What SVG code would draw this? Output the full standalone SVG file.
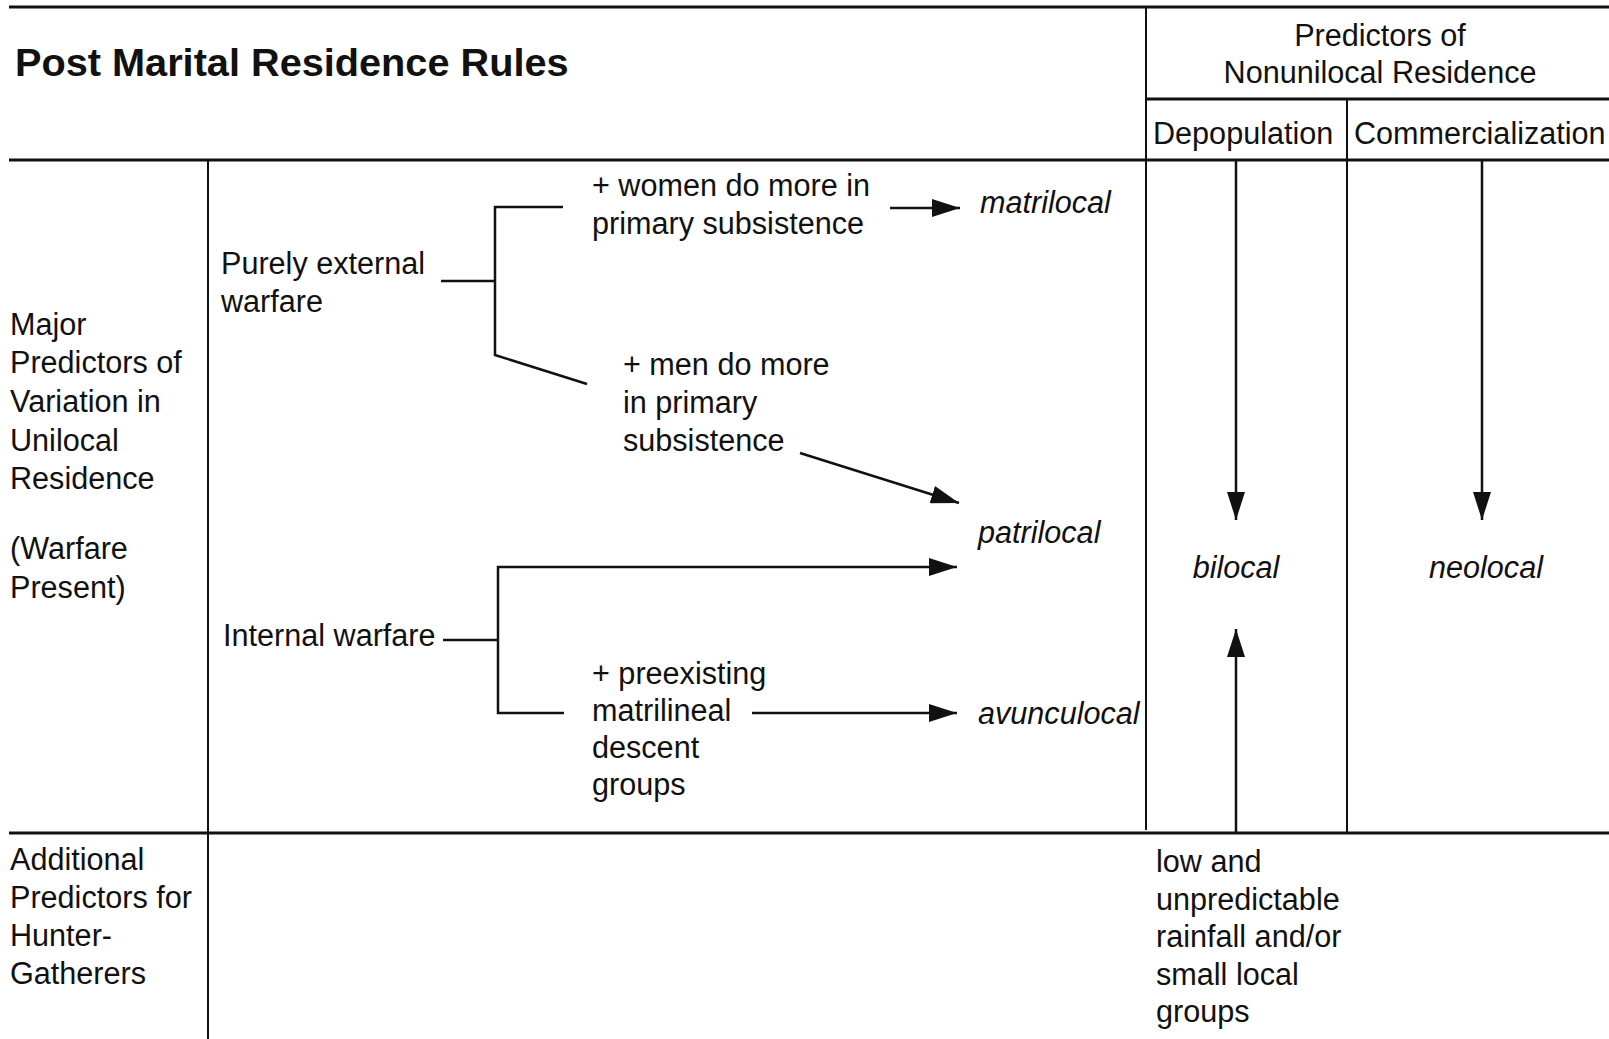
<svg xmlns="http://www.w3.org/2000/svg" width="1609" height="1039" viewBox="0 0 1609 1039">
<style>
text{font-family:"Liberation Sans",Arial,sans-serif;font-size:30.6px;fill:#111}
.title{font-weight:bold;font-size:39.7px}
.it{font-style:italic}
.mid{text-anchor:middle}
.rule{stroke:#111;stroke-width:3;fill:none}
.vr{stroke:#111;stroke-width:2;fill:none}
.ln{stroke:#111;stroke-width:2.5;fill:none}
.arr{stroke:#111;stroke-width:2.5;fill:none;marker-end:url(#ah)}
</style>
<defs>
<marker id="ah" markerUnits="userSpaceOnUse" markerWidth="28" markerHeight="18" refX="28" refY="9" orient="auto">
<path d="M0,0 L28,9 L0,18 z" fill="#111"/>
</marker>
</defs>
<rect width="1609" height="1039" fill="#fff"/>
<g id="grid">
<line class="rule" x1="9" y1="7" x2="1609" y2="7"/>
<line class="rule" x1="9" y1="160" x2="1609" y2="160"/>
<line class="rule" x1="1146" y1="99" x2="1609" y2="99"/>
<line class="rule" x1="9" y1="833" x2="1609" y2="833"/>
<line class="vr" x1="208" y1="160" x2="208" y2="1039"/>
<line class="vr" x1="1146" y1="7" x2="1146" y2="830"/>
<line class="vr" x1="1347" y1="99" x2="1347" y2="833"/>
</g>
<g id="header">
<text class="title" x="15" y="76">Post Marital Residence Rules</text>
<text class="mid" x="1380" y="46">Predictors of</text>
<text class="mid" x="1380" y="83">Nonunilocal Residence</text>
<text x="1153" y="144">Depopulation</text>
<text x="1354" y="144">Commercialization</text>
</g>
<g id="row-major">
<text x="10"><tspan x="10" y="335">Major</tspan><tspan x="10" y="373">Predictors of</tspan><tspan x="10" y="412">Variation in</tspan><tspan x="10" y="451">Unilocal</tspan><tspan x="10" y="489">Residence</tspan><tspan x="10" y="559">(Warfare</tspan><tspan x="10" y="598">Present)</tspan></text>
</g>
<g id="row-additional">
<text x="10"><tspan x="10" y="870">Additional</tspan><tspan x="10" y="908">Predictors for</tspan><tspan x="10" y="946">Hunter-</tspan><tspan x="10" y="984">Gatherers</tspan></text>
</g>
<g id="node-external">
<text x="221"><tspan x="221" y="274">Purely external</tspan><tspan x="221" y="312">warfare</tspan></text>
</g>
<g id="node-internal">
<text x="223" y="646">Internal warfare</text>
</g>
<g id="node-women">
<text x="592"><tspan x="592" y="196">+ women do more in</tspan><tspan x="592" y="234">primary subsistence</tspan></text>
</g>
<g id="node-men">
<text x="623"><tspan x="623" y="375">+ men do more</tspan><tspan x="623" y="413">in primary</tspan><tspan x="623" y="451">subsistence</tspan></text>
</g>
<g id="node-preexisting">
<text x="592"><tspan x="592" y="684">+ preexisting</tspan><tspan x="592" y="721">matrilineal</tspan><tspan x="592" y="758">descent</tspan><tspan x="592" y="795">groups</tspan></text>
</g>
<g id="node-matrilocal"><text class="it" x="980" y="213">matrilocal</text></g>
<g id="node-patrilocal"><text class="it" x="978" y="543">patrilocal</text></g>
<g id="node-avunculocal"><text class="it" x="978" y="724">avunculocal</text></g>
<g id="node-bilocal"><text class="it mid" x="1236" y="578">bilocal</text></g>
<g id="node-neolocal"><text class="it mid" x="1486" y="578">neolocal</text></g>
<g id="node-rainfall">
<text x="1156"><tspan x="1156" y="872">low and</tspan><tspan x="1156" y="910">unpredictable</tspan><tspan x="1156" y="947">rainfall and/or</tspan><tspan x="1156" y="985">small local</tspan><tspan x="1156" y="1022">groups</tspan></text>
</g>
<g id="connectors">
<polyline class="ln" points="441,281 495,281"/>
<polyline class="ln" points="563,207 495,207 495,355 587,384"/>
<line class="arr" x1="890" y1="208" x2="960" y2="208"/>
<line class="arr" x1="800" y1="453" x2="959" y2="503"/>
<polyline class="ln" points="443,640 498,640"/>
<polyline class="arr" points="564,713 498,713 498,567 957,567"/>
<line class="arr" x1="752" y1="713" x2="957" y2="713"/>
<line class="arr" x1="1236" y1="160" x2="1236" y2="520"/>
<line class="arr" x1="1482" y1="160" x2="1482" y2="520"/>
<line class="arr" x1="1236" y1="833" x2="1236" y2="629"/>
</g>
</svg>
